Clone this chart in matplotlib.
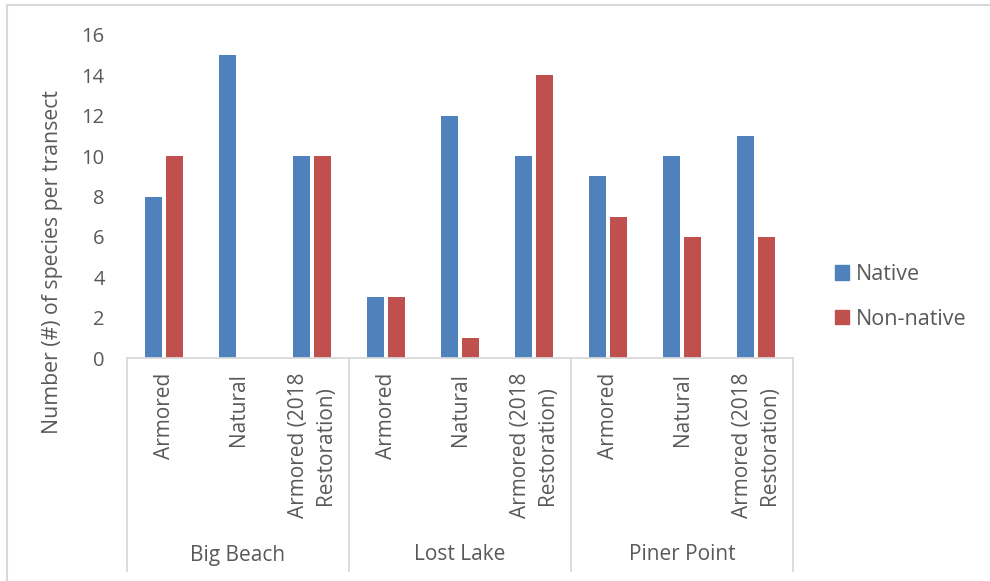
import matplotlib.pyplot as plt
from matplotlib.lines import Line2D
from matplotlib.patches import Patch
import numpy as np

# Данные
sites = ['Big Beach', 'Lost Lake', 'Piner Point']
shore_types = ['Armored', 'Natural', 'Armored (2018\nRestoration)']
native = [8, 15, 10, 3, 12, 10, 9, 10, 11]
non_native = [10, 0, 10, 3, 1, 14, 7, 6, 6]
yticks = [0, 2, 4, 6, 8, 10, 12, 14, 16]

blue = '#4F81BD'
red = '#C0504D'
txt = '#595959'
grey = '#D9D9D9'

plt.rcParams['font.family'] = ['Open Sans', 'DejaVu Sans']

W, H = 990, 581
fig = plt.figure(figsize=(W / 100, H / 100), dpi=100)


def fx(px):
    return px / W


def fy(py):
    return 1 - py / H


# область графика в пикселях
x0, x1, ytop, ybot = 127, 793, 35, 358
ax = fig.add_axes([x0 / W, 1 - ybot / H, (x1 - x0) / W, (ybot - ytop) / H])

x = np.arange(len(native))
bw = 0.23
ax.bar(x - 0.145, native, bw, color=blue, label='Native')
ax.bar(x + 0.145, non_native, bw, color=red, label='Non-native')

ax.set_xlim(-0.5, len(native) - 0.5)
ax.set_ylim(0, 16)
ax.set_yticks(yticks)
ax.set_xticks([])
ax.tick_params(axis='y', length=0, pad=16, labelsize=14.5, labelcolor=txt)
for s in ['top', 'right', 'left']:
    ax.spines[s].set_visible(False)
ax.spines['bottom'].set_color(grey)
ax.spines['bottom'].set_linewidth(1.3)

fig.text(fx(53), fy(262), 'Number (#) of species per transect', rotation=90,
         ha='center', va='center', fontsize=15.3, color=txt)

# подписи категорий
n = len(native)
for i in range(n):
    cx = x0 + (i + 0.5) * (x1 - x0) / n
    fig.text(fx(cx), fy(373), shore_types[i % 3], rotation=90, ha='center',
             va='top', multialignment='center', fontsize=15, color=txt,
             linespacing=1.4)

for g in range(4):
    sx = x0 + g * (x1 - x0) / 3
    fig.add_artist(Line2D([fx(sx), fx(sx)], [fy(358), fy(571)], color=grey, lw=1.3))
for g, name in enumerate(sites):
    cx = x0 + (g + 0.5) * (x1 - x0) / 3
    fig.text(fx(cx), fy(555), name, ha='center', va='center', fontsize=15, color=txt)

# рамка
fig.add_artist(Line2D([fx(7), fx(7)], [fy(5), 0], color=grey, lw=1.5))
fig.add_artist(Line2D([fx(7), 1], [fy(5), fy(5)], color=grey, lw=1.5))

handles = [Patch(color=blue, label='Native'), Patch(color=red, label='Non-native')]
fig.legend(handles=handles, loc='center left', bbox_to_anchor=(fx(835), fy(297)),
           frameon=False, fontsize=15.5, labelcolor=txt, handlelength=0.65,
           handleheight=0.65, handletextpad=0.3, labelspacing=1.1, borderpad=0,
           borderaxespad=0)

fig.savefig('out.png', dpi=100)
